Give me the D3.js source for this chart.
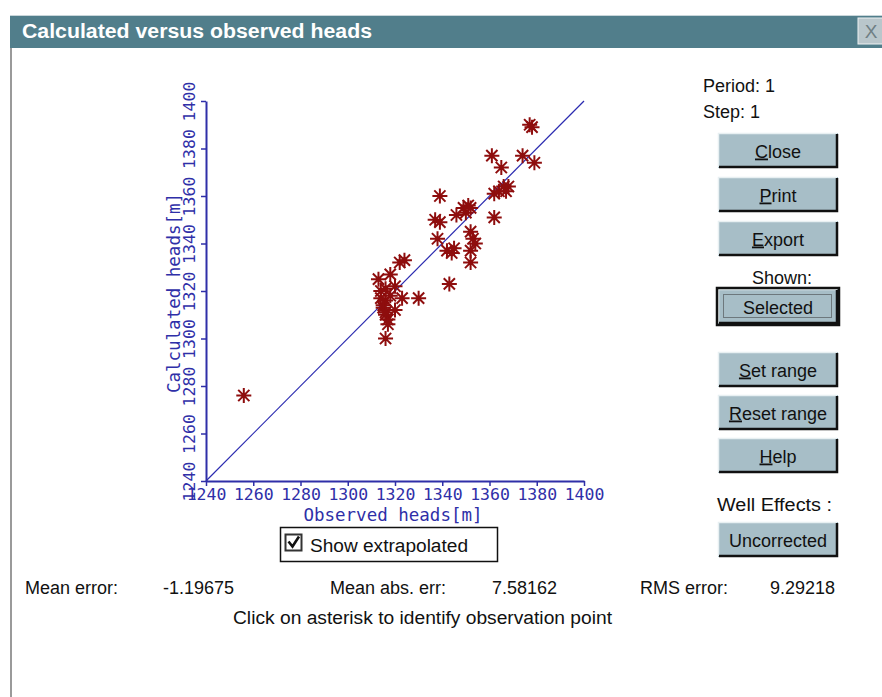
<!DOCTYPE html>
<html>
<head>
<meta charset="utf-8">
<script src="https://cdn.jsdelivr.net/npm/d3@7"></script>
<style>
  html, body { margin: 0; padding: 0; background: #ffffff; }
  svg { display: block; }
  .ui { font-family: "Liberation Sans", Arial, sans-serif; font-size: 18px; fill: #111; }
  .mono { font-family: "DejaVu Sans Mono", "Liberation Mono", monospace; }
</style>
</head>
<body>
<script>
// Observed and calculated heads (m) for each observation point
const observed = [
  1256,
  1316, 1313, 1314, 1314, 1315, 1316, 1315, 1316, 1317, 1316, 1317, 1318, 1318,
  1320, 1322, 1324, 1323, 1330, 1320, 1316, 1343,
  1339, 1337, 1339, 1338, 1342, 1344, 1345, 1346, 1349, 1351, 1350, 1352,
  1352, 1353, 1354, 1352, 1352,
  1362, 1362, 1361, 1365, 1374, 1379, 1366, 1364, 1368, 1367, 1377, 1378
];
const calculated = [
  1276,
  1300, 1325, 1320, 1317, 1314, 1316, 1313, 1310, 1308, 1311, 1306, 1318, 1327,
  1322, 1332, 1333, 1317, 1317, 1312, 1321, 1323,
  1360, 1350, 1349, 1342, 1337, 1336, 1338, 1352, 1355, 1356, 1353, 1355,
  1345, 1342, 1340, 1337, 1332,
  1361, 1351, 1377, 1372, 1377, 1374, 1364, 1362, 1364, 1362, 1390, 1389
];

const axisTicks = [1240, 1260, 1280, 1300, 1320, 1340, 1360, 1380, 1400];
const axisDomain = [1240, 1400];

const windowTitle = "Calculated versus observed heads";
const xTitle = "Observed heads[m]";
const yTitle = "Calculated heads[m]";
const periodLabel = "Period: 1";
const stepLabel = "Step: 1";

// Buttons: label and index of the underlined mnemonic letter
const buttonLabels = ["Close", "Print", "Export", "Selected", "Set range", "Reset range", "Help", "Uncorrected"];
const buttonMnemonic = [0, 0, 0, -1, 0, 0, 0, -1];

const statLabels = ["Mean error:", "Mean abs. err:", "RMS error:"];
const statValues = ["-1.19675", "7.58162", "9.29218"];
const hint = "Click on asterisk to identify observation point";
const checkboxLabel = "Show extrapolated";

const W = 882, H = 697;
const axisBlue = "#2f2fa8";
const starRed = "#8e0d0d";

const svg = d3.select("body").append("svg").attr("width", W).attr("height", H);
svg.append("rect").attr("width", W).attr("height", H).attr("fill", "#ffffff");

// ---- window frame ----
svg.append("line").attr("x1", 11).attr("x2", 11).attr("y1", 48).attr("y2", H)
  .attr("stroke", "#9a9a9a").attr("stroke-width", 2);
svg.append("rect").attr("x", 10).attr("y", 15).attr("width", W - 10).attr("height", 33)
  .attr("fill", "#517e8b");
svg.append("line").attr("x1", 10).attr("x2", W).attr("y1", 15.5).attr("y2", 15.5)
  .attr("stroke", "#c9d6da").attr("stroke-width", 1);
svg.append("text").attr("x", 22).attr("y", 38)
  .attr("font-family", "Liberation Sans, Arial, sans-serif").attr("font-weight", "bold")
  .attr("font-size", 20).attr("fill", "#ffffff")
  .attr("textLength", 350).attr("lengthAdjust", "spacingAndGlyphs")
  .text(windowTitle);
// title bar close box
svg.append("rect").attr("x", 858).attr("y", 18).attr("width", 26).attr("height", 26)
  .attr("fill", "#b9c6cb").attr("stroke", "#eef2f3").attr("stroke-width", 1);
svg.append("text").attr("x", 871).attr("y", 38).attr("text-anchor", "middle")
  .attr("font-family", "Liberation Sans, Arial, sans-serif").attr("font-size", 19)
  .attr("fill", "#6f7f85").text("X");

// ---- plot ----
const x = d3.scaleLinear().domain(axisDomain).range([206, 584]);
const y = d3.scaleLinear().domain(axisDomain).range([481, 101]);

const plot = svg.append("g");

// 1:1 reference line
plot.append("line")
  .attr("x1", x(axisDomain[0])).attr("y1", y(axisDomain[0]))
  .attr("x2", x(axisDomain[1])).attr("y2", y(axisDomain[1]))
  .attr("stroke", "#2a2ab0").attr("stroke-width", 1.2);

const xAxis = plot.append("g").attr("transform", `translate(0,${y(axisDomain[0])})`)
  .call(d3.axisBottom(x).tickValues(axisTicks).tickSize(5).tickSizeOuter(0).tickFormat(d3.format("d")));
const yAxis = plot.append("g").attr("transform", `translate(${x(axisDomain[0])},0)`)
  .call(d3.axisLeft(y).tickValues(axisTicks).tickSize(5).tickSizeOuter(0).tickFormat(d3.format("d")));

[xAxis, yAxis].forEach(a => {
  a.select(".domain").attr("stroke", axisBlue).attr("stroke-width", 2);
  a.selectAll(".tick line").attr("stroke", axisBlue).attr("stroke-width", 1.5);
  a.selectAll(".tick text").attr("fill", axisBlue)
    .attr("font-family", "DejaVu Sans Mono, Liberation Mono, monospace")
    .attr("font-size", 16.5);
});
xAxis.selectAll(".tick text").attr("y", 7).attr("dy", "0.71em");
yAxis.selectAll(".tick text")
  .attr("x", 0).attr("dy", 0)
  .attr("text-anchor", "middle").attr("dominant-baseline", "central")
  .attr("transform", "translate(-17,0) rotate(-90)");

plot.append("text").attr("class", "mono")
  .attr("x", 393).attr("y", 521).attr("text-anchor", "middle")
  .attr("font-size", 17.5).attr("fill", axisBlue).text(xTitle);
plot.append("text").attr("class", "mono")
  .attr("transform", `translate(180,${(y(axisDomain[0]) + y(axisDomain[1])) / 2 + 2}) rotate(-90)`)
  .attr("text-anchor", "middle")
  .attr("font-size", 17.5).attr("fill", axisBlue).text(yTitle);

// asterisk markers
const armL = 7.5, armD = 5.6;
const starPath = `M0,${-armL}V${armL}M${-armL},0H${armL}` +
  `M${-armD},${-armD}L${armD},${armD}M${-armD},${armD}L${armD},${-armD}`;
plot.append("g").selectAll("path")
  .data(observed.map((o, i) => [o, calculated[i]]))
  .join("path")
  .attr("transform", d => `translate(${x(d[0])},${y(d[1])})`)
  .attr("d", starPath)
  .attr("fill", "none").attr("stroke", starRed).attr("stroke-width", 2);

// ---- checkbox ----
svg.append("rect").attr("x", 280.5).attr("y", 527.5).attr("width", 217).attr("height", 34)
  .attr("fill", "#ffffff").attr("stroke", "#111").attr("stroke-width", 1.5);
svg.append("rect").attr("x", 285.5).attr("y", 534.5).attr("width", 16).attr("height", 16)
  .attr("fill", "#ffffff").attr("stroke", "#333").attr("stroke-width", 2);
svg.append("path").attr("d", "M288.5,541.5 L292.5,546.5 L299,536.5")
  .attr("fill", "none").attr("stroke", "#111").attr("stroke-width", 2.6);
svg.append("text").attr("class", "ui").attr("x", 310).attr("y", 552).attr("font-size", 20)
  .attr("textLength", 158).attr("lengthAdjust", "spacingAndGlyphs")
  .text(checkboxLabel);

// ---- right panel ----
svg.append("text").attr("class", "ui").attr("x", 703).attr("y", 92).text(periodLabel);
svg.append("text").attr("class", "ui").attr("x", 703).attr("y", 118).text(stepLabel);
svg.append("text").attr("class", "ui").attr("x", 752).attr("y", 284).attr("font-size", 19).text("Shown:");
svg.append("text").attr("class", "ui").attr("x", 717).attr("y", 511).attr("font-size", 20)
  .attr("textLength", 115).attr("lengthAdjust", "spacingAndGlyphs").text("Well Effects :");

const buttonTops = [133, 177, 221, 289, 352, 395, 438, 522];
const bx = 718, bw = 120, bh = 35;
buttonLabels.forEach((label, i) => {
  const g = svg.append("g").attr("transform", `translate(${bx},${buttonTops[i]})`);
  const selected = label === "Selected";
  g.append("rect").attr("width", bw).attr("height", bh).attr("fill", "#a7bec7");
  // bevel: light top/left, dark bottom/right
  g.append("path").attr("d", `M0.5,${bh - 1}V0.5H${bw - 1}`)
    .attr("fill", "none").attr("stroke", "#e8f0f2").attr("stroke-width", 1.5);
  g.append("path").attr("d", `M1,${bh - 1}H${bw - 1}V1`)
    .attr("fill", "none").attr("stroke", "#111").attr("stroke-width", 2.5);
  if (selected) {
    g.append("rect").attr("x", -1).attr("y", -1).attr("width", bw + 2).attr("height", bh + 2)
      .attr("fill", "none").attr("stroke", "#111").attr("stroke-width", 2.5);
    g.append("rect").attr("x", 5.5).attr("y", 5.5).attr("width", bw - 12).attr("height", bh - 12)
      .attr("fill", "none").attr("stroke", "#333").attr("stroke-width", 1).attr("stroke-dasharray", "1,1");
  }
  const t = g.append("text").attr("class", "ui").attr("x", bw / 2).attr("y", bh / 2 + 7)
    .attr("text-anchor", "middle").attr("font-size", 19.5);
  const m = buttonMnemonic[i];
  if (m >= 0) {
    t.append("tspan").attr("text-decoration", "underline").text(label.slice(0, m + 1));
    t.append("tspan").text(label.slice(m + 1));
  } else {
    t.text(label);
  }
});

// ---- statistics ----
const statLabelX = [25, 330, 640];
const statValueX = [163, 492, 770];
statLabels.forEach((s, i) => {
  svg.append("text").attr("class", "ui").attr("x", statLabelX[i]).attr("y", 594).attr("font-size", 19).text(s);
  svg.append("text").attr("class", "ui").attr("x", statValueX[i]).attr("y", 594).attr("font-size", 19).text(statValues[i]);
});
svg.append("text").attr("class", "ui").attr("x", 233).attr("y", 624).attr("font-size", 19)
  .attr("textLength", 379).attr("lengthAdjust", "spacingAndGlyphs").text(hint);
</script>
</body>
</html>
